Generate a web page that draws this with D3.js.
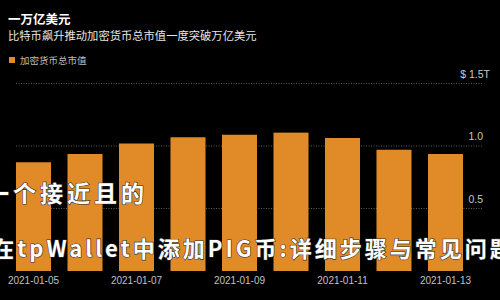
<!DOCTYPE html>
<html>
<head>
<meta charset="utf-8">
<script src="https://cdn.jsdelivr.net/npm/d3@7"></script>
<style>
  html, body { margin: 0; padding: 0; background: #000; }
  svg { display: block; }
</style>
</head>
<body>
<svg id="chart" width="500" height="300"></svg>
<script>
const dates = ["2021-01-05","2021-01-06","2021-01-07","2021-01-08","2021-01-09","2021-01-10","2021-01-11","2021-01-12","2021-01-13"];
const marketCap = [0.87, 0.936, 1.02, 1.07, 1.09, 1.107, 1.064, 0.97, 0.936];
const yTicks = [0.5, 1.0, 1.5];
const yTickLabels = ["0.5", "1.0", "$ 1.5T"];
const xTickLabels = ["2021-01-05","2021-01-07","2021-01-09","2021-01-11","2021-01-13"];
const title = "一万亿美元";
const subtitle = "比特币飙升推动加密货币总市值一度突破万亿美元";
const legendLabel = "加密货币总市值";
const overlay1 = "一个接近且的";
const overlay2 = "在tpWallet中添加PIG币:详细步骤与常见问题";

const svg = d3.select("#chart");
const cjk = "'Noto Sans CJK SC', 'Noto Sans', sans-serif";
const lat = "'Liberation Sans', Arial, sans-serif";

svg.append("rect").attr("width", 500).attr("height", 300).attr("fill", "#000");

const x = d3.scaleBand().domain(dates).range([7.75, 471.25]).paddingInner(0.32).paddingOuter(0.16);
const y = d3.scaleLinear().domain([0, 1.5]).range([271, 83.5]);

// gridlines
svg.append("g").selectAll("line").data(yTicks).join("line")
  .attr("x1", 16).attr("x2", 482)
  .attr("y1", d => y(d)).attr("y2", d => y(d))
  .attr("stroke", "#5a5a5a").attr("stroke-width", 1)
  .attr("stroke-dasharray", "1,1.5");

// bars
svg.append("g").selectAll("rect").data(dates).join("rect")
  .attr("x", d => x(d)).attr("width", x.bandwidth())
  .attr("y", (d, i) => y(marketCap[i]))
  .attr("height", (d, i) => y(0) - y(marketCap[i]))
  .attr("fill", "#e08b28");

// y tick labels
svg.append("g").selectAll("text").data(yTicks).join("text")
  .attr("x", (d, i) => i === yTicks.length - 1 ? 490 : 483)
  .attr("y", d => y(d) - 6)
  .attr("text-anchor", "end")
  .attr("fill", "#c8c8c8").attr("font-size", 10.5).attr("font-family", lat)
  .text((d, i) => yTickLabels[i]);

// x axis labels
const xAxis = d3.axisBottom(x).tickValues(xTickLabels).tickSize(0).tickPadding(6);
const gx = svg.append("g").attr("transform", `translate(0,${y(0)})`).call(xAxis);
gx.select(".domain").remove();
gx.selectAll("text").attr("fill", "#c0c0c0").attr("font-size", 10).attr("font-family", lat);

// title
svg.append("text").attr("x", 8).attr("y", 24)
  .attr("fill", "#fff").attr("font-size", 12.5).attr("font-weight", "bold")
  .attr("font-family", cjk).text(title);
svg.append("text").attr("x", 8).attr("y", 40)
  .attr("fill", "#e6e6e6").attr("font-size", 11.3)
  .attr("font-family", cjk).text(subtitle);

// legend
svg.append("rect").attr("x", 9).attr("y", 57).attr("width", 6).attr("height", 6).attr("fill", "#e08b28");
svg.append("text").attr("x", 20).attr("y", 64)
  .attr("fill", "#bdbdbd").attr("font-size", 9.5)
  .attr("font-family", cjk).text(legendLabel);

// overlay texts
svg.append("text").attr("x", -14).attr("y", 202)
  .attr("fill", "#fff").attr("stroke", "#333").attr("stroke-width", 1.2)
  .attr("paint-order", "stroke")
  .attr("font-size", 23).attr("font-weight", "bold").attr("letter-spacing", 4)
  .attr("font-family", cjk).text(overlay1);
svg.append("text").attr("x", -8).attr("y", 257)
  .attr("fill", "#fff").attr("stroke", "#333").attr("stroke-width", 1.2)
  .attr("paint-order", "stroke")
  .attr("font-size", 22).attr("font-weight", "bold").attr("letter-spacing", 3)
  .attr("font-family", cjk).text(overlay2);
</script>
</body>
</html>
